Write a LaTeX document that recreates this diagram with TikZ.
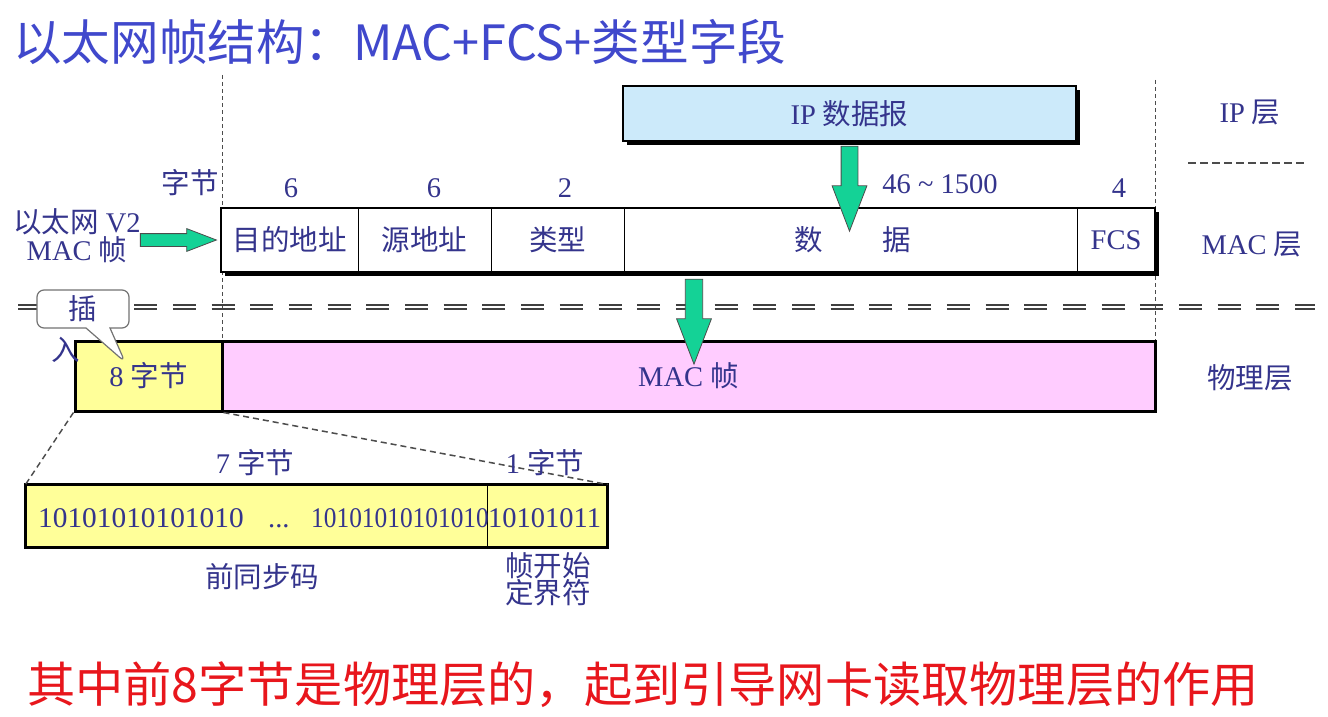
\documentclass[tikz,border=0pt]{standalone}
\usepackage{fontspec}
\setmainfont{Liberation Serif}
\newfontfamily\cjk{Noto Sans CJK SC}
\usetikzlibrary{shapes.arrows,shapes.callouts,shadows,calc}
\definecolor{txtc}{RGB}{52,52,140}
\definecolor{titlec}{RGB}{64,72,204}
\definecolor{redc}{RGB}{232,22,28}
\definecolor{gfill}{RGB}{20,210,150}
\definecolor{ipblue}{RGB}{204,234,250}
\definecolor{yel}{RGB}{255,255,153}
\definecolor{pinkc}{RGB}{255,204,255}
\newcommand\zh[1]{{\cjk #1}}
\newcommand\dfont{\fontsize{28.5}{32}\selectfont}
\begin{document}
\begin{tikzpicture}[x=1pt,y=-1pt,
  lbl/.style={text=txtc, font=\dfont, inner sep=0, align=center},
  field/.style={draw=black, line width=1, minimum height=64, inner sep=0, text=txtc, font=\dfont},
  physbox/.style={draw=black, line width=3, minimum height=70, inner sep=0, text=txtc, font=\dfont},
  bits/.style={text=txtc, font=\dfont, inner sep=0},
  vdot/.style={draw=black!70, line width=1, dash pattern=on 4pt off 3pt},
  ddash/.style={draw=black!75, line width=2, dash pattern=on 23pt off 15.7pt},
  diag/.style={draw=black!70, line width=1.5, dash pattern=on 6pt off 4pt},
  garrow/.style={single arrow, draw=black!70, line width=0.8, fill=gfill,
     single arrow tip angle=42, inner xsep=0, minimum width=1pt},
  hshadow/.style={drop shadow={shadow xshift=4pt, shadow yshift=-4pt, opacity=1, fill=black}}
]
\useasboundingbox (0,0) rectangle (1328,717);
\fill[white] (0,0) rectangle (1328,717);

% title and note
\node[anchor=west, text=titlec, font=\cjk\fontsize{48.6}{52}\selectfont, inner sep=0] (title) at (13,42) {以太网帧结构：MAC+FCS+类型字段};
\node[anchor=west, text=redc, font=\cjk\fontsize{48.2}{52}\selectfont, inner sep=0] (note) at (27,685) {其中前8字节是物理层的，起到引导网卡读取物理层的作用};

% guide lines
\draw[vdot] (222,75) -- (222,411);
\draw[vdot] (1155,80) -- (1155,341);
\draw[draw=black!70, line width=1.2, dash pattern=on 8pt off 4pt] (1188,163) -- (1305,163);

% layer labels
\node[lbl] (lip) at (1250,112) {IP \zh{层}};
\node[lbl] (lmac) at (1252,244) {MAC \zh{层}};
\node[lbl] (lphy) at (1250,378) {\zh{物理层}};

% byte counts
\node[lbl] (bytes) at (190,183) {\zh{字节}};
\node[lbl] (n1) at (291,188) {6};
\node[lbl] (n2) at (434,188) {6};
\node[lbl] (n3) at (565,188) {2};
\node[lbl] (n4) at (940,184) {46 \textasciitilde{} 1500};
\node[lbl] (n5) at (1119,188) {4};

% MAC row
\node[draw=black, line width=1.5, fill=white, minimum width=934, minimum height=64, inner sep=0, hshadow] (macrow) at (688,240) {};
\node[field, minimum width=137] (dst) at (289.5,240) {\zh{目的地址}};
\node[field, minimum width=133] (src) at (424.5,240) {\zh{源地址}};
\node[field, minimum width=133] (typ) at (557.5,240) {\zh{类型}};
\node[field, minimum width=453] (dat) at (850.5,240) {\hspace{4pt}\zh{数}\hspace{60pt}\zh{据}};
\node[field, minimum width=78] (fcs) at (1116,240) {FCS};

% IP box
\node[draw=black, line width=1.5, fill=ipblue, minimum width=453, minimum height=55, inner sep=0, text=txtc, font=\dfont, hshadow] (ip) at (849.5,113.5) {IP \zh{数据报}};
\node[garrow, rotate=-90, anchor=tail, inner ysep=8, single arrow head extend=9, minimum height=85] (a1) at ([yshift=-4pt]ip.south) {};

% left label
\node[lbl] (v2) at (77,236) {\zh{以太网} V2\\[-4pt]MAC \zh{帧}};
\node[garrow, anchor=tip, inner ysep=6, single arrow head extend=5, minimum height=76] (a2) at ([xshift=-3pt]dst.west) {};

% double dashed separator
\draw[ddash] (18,304.5) -- (1315,304.5);
\draw[ddash] (18,309) -- (1315,309);

% physical row
\node[physbox, fill=yel, minimum width=147] (pre8) at (148.5,376) {8 \zh{字节}};
\node[physbox, fill=pinkc, minimum width=933] (macfr) at (688.5,376) {MAC \zh{帧}};
\node[garrow, rotate=-90, anchor=tail, inner ysep=8.3, single arrow head extend=8.7, minimum height=85] (a3) at ($(macrow.south)+(6,6)$) {};

% callout
\node[rectangle callout, rounded corners=7pt, draw=black!55, line width=1.2, fill=white,
  minimum width=92, minimum height=38, inner sep=0, callout absolute pointer={(125,362)},
  callout pointer width=24pt, text=txtc, font=\dfont] (ins) at (83,309) {\zh{插}\hspace{30pt}};
\node[lbl] (ins2) at (66,350) {\zh{入}};

% preamble
\node[draw=black, line width=1, fill=yel, minimum width=461, minimum height=62, inner sep=0] (pbits) at (256.5,516) {};
\node[draw=black, line width=1, fill=yel, minimum width=120, minimum height=62, inner sep=0] (sfd) at (547,516) {};
\draw[line width=3] (pbits.north west) rectangle (sfd.south east);
\draw[diag] (pre8.south west) -- (pbits.north west);
\draw[diag] (pre8.south east) -- (sfd.north east);
\node[bits, anchor=base west] (b1) at (38,527) {\scalebox{1.03}[1]{10101010101010}};
\node[bits, anchor=base west] (b2) at (268,527) {...};
\node[bits, anchor=base east] (b3) at (489,527) {\scalebox{0.89}[1]{10101010101010}};
\node[bits, anchor=base west] (b4) at (488,527) {10101011};

\node[lbl] (l7) at (255,463) {7 \zh{字节}};
\node[lbl] (l1) at (545,463) {1 \zh{字节}};
\node[lbl] (lpre) at (262,577) {\zh{前同步码}};
\node[lbl] (lsfd) at (548,579) {\zh{帧开始}\\[-5pt]\zh{定界符}};
\end{tikzpicture}
\end{document}
